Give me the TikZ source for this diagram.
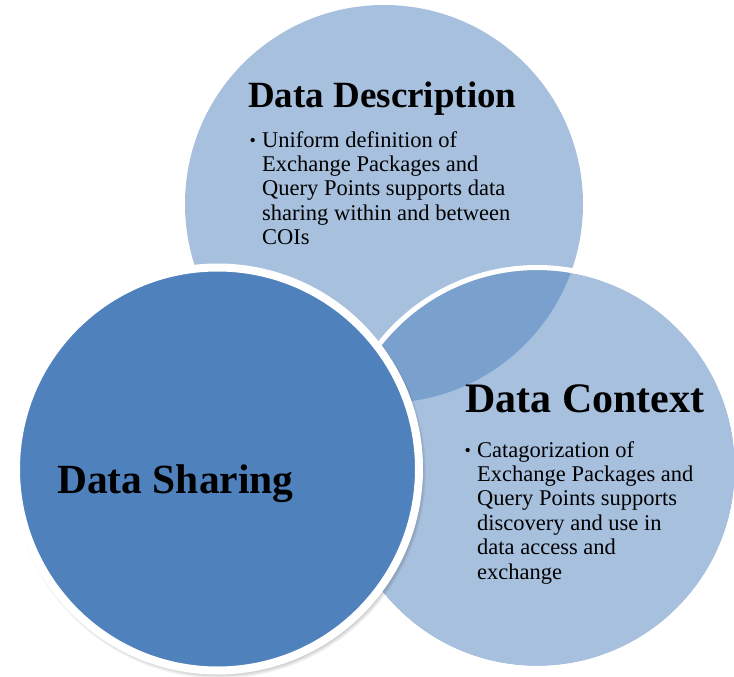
\documentclass[tikz,border=0pt]{standalone}
\usepackage{fontspec}
\setmainfont{Liberation Serif}
\definecolor{dsblue}{HTML}{4F81BD}
\begin{document}
\begin{tikzpicture}[x=1pt,y=-1pt,
  titletext/.style={inner sep=0pt, anchor=base west},
  bodytext/.style={inner sep=0pt, anchor=base west, align=left, font=\fontsize{22.5}{24.4}\selectfont},
  bullettext/.style={inner sep=0pt, anchor=base west, font=\fontsize{18}{18}\selectfont},
  lightcircle/.style={fill=dsblue, fill opacity=0.5}]
\useasboundingbox (0,0) rectangle (734,677);
\coordinate (cDesc) at (384,204);
\coordinate (cCtx) at (537,468);
\coordinate (cShare) at (217.5,469);
\coordinate (cShadow) at (219.5,472);
% top circle
\fill[lightcircle] (cDesc) circle[radius=199pt];
% right circle
\fill[lightcircle] (cCtx) circle[radius=198pt];
\draw[white, line width=5pt] (cCtx) circle[radius=200.5pt];
% shadow of left circle
\foreach \k in {0,...,5}{
  \fill[black, opacity=0.045] (cShadow) circle[radius={206.5pt-\k pt}];
}
% left circle
\draw[white, line width=8pt, fill=dsblue] (cShare) circle[radius=201.5pt];
% texts (base anchor of a multi-line node = last line's baseline)
\node[titletext, font=\fontsize{37}{40}\selectfont\bfseries] (tDesc) at (248,107) {Data Description};
\node[bullettext] (bDesc) at (249.5,146) {•};
\node[bodytext] (xDesc) at (262,244.6) {Uniform definition of\\Exchange Packages and\\Query Points supports data\\sharing within and between\\COIs};
\node[titletext, font=\fontsize{42}{45}\selectfont\bfseries] (tCtx) at (465,412) {Data Context};
\node[bullettext] (bCtx) at (464.5,456) {•};
\node[bodytext] (xCtx) at (477,579) {Catagorization of\\Exchange Packages and\\Query Points supports\\discovery and use in\\data access and\\exchange};
\node[titletext, font=\fontsize{41.5}{45}\selectfont\bfseries] (tShare) at (57,493) {Data Sharing};
\end{tikzpicture}
\end{document}
